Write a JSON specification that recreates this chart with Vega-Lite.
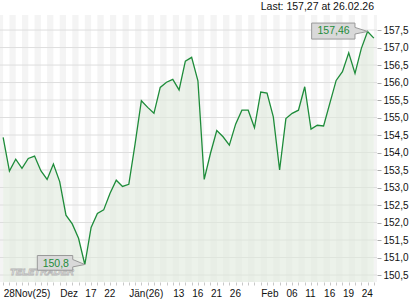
{
  "$schema": "https://vega.github.io/schema/vega-lite/v6.json",
  "width": 377,
  "height": 267,
  "autosize": "none",
  "padding": {"left": 0, "top": 15, "right": 43, "bottom": 18},
  "background": "#ffffff",
  "config": {"view": {"stroke": null}, "font": "Liberation Sans"},
  "title": {"text": "Last: 157,27 at 26.02.26", "anchor": "end", "frame": "group", "fontSize": 10.5, "fontWeight": "normal", "color": "#111111", "font": "Liberation Sans", "offset": 3, "dx": -3},
  "datasets": {
    "prices": [
      {"d": "2025-11-28", "i": 0, "v": 154.43},
      {"d": "2025-12-01", "i": 1, "v": 153.47},
      {"d": "2025-12-02", "i": 2, "v": 153.81},
      {"d": "2025-12-03", "i": 3, "v": 153.55},
      {"d": "2025-12-04", "i": 4, "v": 153.83},
      {"d": "2025-12-05", "i": 5, "v": 153.9},
      {"d": "2025-12-08", "i": 6, "v": 153.48},
      {"d": "2025-12-09", "i": 7, "v": 153.23},
      {"d": "2025-12-10", "i": 8, "v": 153.67},
      {"d": "2025-12-11", "i": 9, "v": 153.17},
      {"d": "2025-12-12", "i": 10, "v": 152.21},
      {"d": "2025-12-15", "i": 11, "v": 151.96},
      {"d": "2025-12-16", "i": 12, "v": 151.55},
      {"d": "2025-12-17", "i": 13, "v": 150.8},
      {"d": "2025-12-18", "i": 14, "v": 151.86},
      {"d": "2025-12-19", "i": 15, "v": 152.26},
      {"d": "2025-12-22", "i": 16, "v": 152.36},
      {"d": "2025-12-23", "i": 17, "v": 152.83},
      {"d": "2025-12-29", "i": 18, "v": 153.21},
      {"d": "2025-12-30", "i": 19, "v": 153.03},
      {"d": "2026-01-02", "i": 20, "v": 153.09},
      {"d": "2026-01-05", "i": 21, "v": 154.25},
      {"d": "2026-01-06", "i": 22, "v": 155.48},
      {"d": "2026-01-07", "i": 23, "v": 155.29},
      {"d": "2026-01-08", "i": 24, "v": 155.12},
      {"d": "2026-01-09", "i": 25, "v": 155.86},
      {"d": "2026-01-12", "i": 26, "v": 156.01},
      {"d": "2026-01-13", "i": 27, "v": 156.09},
      {"d": "2026-01-14", "i": 28, "v": 155.79},
      {"d": "2026-01-15", "i": 29, "v": 156.61},
      {"d": "2026-01-16", "i": 30, "v": 156.72},
      {"d": "2026-01-19", "i": 31, "v": 156.05},
      {"d": "2026-01-20", "i": 32, "v": 153.23},
      {"d": "2026-01-21", "i": 33, "v": 153.98},
      {"d": "2026-01-22", "i": 34, "v": 154.63},
      {"d": "2026-01-23", "i": 35, "v": 154.45},
      {"d": "2026-01-26", "i": 36, "v": 154.21},
      {"d": "2026-01-27", "i": 37, "v": 154.81},
      {"d": "2026-01-28", "i": 38, "v": 155.21},
      {"d": "2026-01-29", "i": 39, "v": 155.21},
      {"d": "2026-01-30", "i": 40, "v": 154.71},
      {"d": "2026-02-02", "i": 41, "v": 155.73},
      {"d": "2026-02-03", "i": 42, "v": 155.7},
      {"d": "2026-02-04", "i": 43, "v": 155.02},
      {"d": "2026-02-05", "i": 44, "v": 153.5},
      {"d": "2026-02-06", "i": 45, "v": 154.97},
      {"d": "2026-02-09", "i": 46, "v": 155.12},
      {"d": "2026-02-10", "i": 47, "v": 155.21},
      {"d": "2026-02-11", "i": 48, "v": 155.88},
      {"d": "2026-02-12", "i": 49, "v": 154.67},
      {"d": "2026-02-13", "i": 50, "v": 154.78},
      {"d": "2026-02-16", "i": 51, "v": 154.76},
      {"d": "2026-02-17", "i": 52, "v": 155.41},
      {"d": "2026-02-18", "i": 53, "v": 156.06},
      {"d": "2026-02-19", "i": 54, "v": 156.31},
      {"d": "2026-02-20", "i": 55, "v": 156.85},
      {"d": "2026-02-23", "i": 56, "v": 156.26},
      {"d": "2026-02-24", "i": 57, "v": 156.97},
      {"d": "2026-02-25", "i": 58, "v": 157.46},
      {"d": "2026-02-26", "i": 59, "v": 157.27}
    ],
    "levels": [
      {"v": 150.5}, {"v": 151}, {"v": 151.5}, {"v": 152}, {"v": 152.5}, {"v": 153}, {"v": 153.5}, {"v": 154},
      {"v": 154.5}, {"v": 155}, {"v": 155.5}, {"v": 156}, {"v": 156.5}, {"v": 157}, {"v": 157.5}
    ],
    "callouts": [
      {"kind": "max", "i": 58, "v": 157.46, "label": "157,46"},
      {"kind": "min", "i": 13, "v": 150.8, "label": "150,8"}
    ]
  },
  "layer": [
    {
      "data": {"name": "prices"},
      "transform": [
        {"filter": "datum.i % 2 == 0 || datum.i == 59"},
        {"calculate": "datum.i % 2 == 0 ? datum.i - 1 : datum.i", "as": "a"},
        {"calculate": "datum.a + 1", "as": "b"}
      ],
      "mark": {"type": "rect", "color": "#f4f4f4", "clip": true},
      "encoding": {
        "x": {"field": "a", "type": "quantitative", "scale": {"domain": [-0.5, 59.5], "nice": false, "zero": false},
          "axis": {"title": null, "orient": "bottom", "tickCount": 200, "values": [0,1,2,3,4,5,6,7,8,9,10,11,12,13,14,15,16,17,18,19,20,21,22,23,24,25,26,27,28,29,30,31,32,33,34,35,36,37,38,39,40,41,42,43,44,45,46,47,48,49,50,51,52,53,54,55,56,57,58,59],
            "domain": false, "grid": false, "ticks": true, "tickSize": 3, "tickColor": "#c8c8c8", "labelAlign": "left", "labelBaseline": "top", "labelPadding": 3, "labelFontSize": 10, "labelColor": "#111111", "labelOverlap": false, "labelFlush": false, "labelBound": false,
            "labelExpr": "datum.value == 0 ? '28Nov(25)' : datum.value == 9 ? 'Dez' : datum.value == 13 ? '17' : datum.value == 16 ? '22' : datum.value == 20 ? 'Jän(26)' : datum.value == 27 ? '13' : datum.value == 30 ? '16' : datum.value == 33 ? '21' : datum.value == 36 ? '26' : datum.value == 41 ? 'Feb' : datum.value == 45 ? '06' : datum.value == 48 ? '11' : datum.value == 51 ? '16' : datum.value == 54 ? '19' : datum.value == 57 ? '24' : ''"}},
        "x2": {"field": "b"}
      }
    },
    {
      "data": {"name": "levels"},
      "mark": {"type": "rule", "color": "#dedede", "strokeWidth": 1},
      "encoding": {
        "y": {"field": "v", "type": "quantitative", "scale": {"domain": [150.3, 157.93], "nice": false, "zero": false},
          "axis": {"title": null, "orient": "right", "tickCount": 100, "values": [150.5,151,151.5,152,152.5,153,153.5,154,154.5,155,155.5,156,156.5,157,157.5],
            "domain": false, "grid": false, "tickSize": 4, "tickColor": "#aaaaaa", "labelPadding": 2, "labelFontSize": 10, "labelColor": "#111111", "labelOverlap": false, "labelBound": false, "labelFlush": false,
            "labelExpr": "replace(format(datum.value, '.1f'), '.', ',')"}}
      }
    },
    {
      "data": {"name": "prices"},
      "mark": {"type": "area", "color": "#dfe9dc", "opacity": 0.6, "clip": true},
      "encoding": {
        "x": {"field": "i", "type": "quantitative", "title": null},
        "y": {"field": "v", "type": "quantitative", "title": null}
      }
    },
    {
      "data": {"name": "prices"},
      "mark": {"type": "line", "color": "#1e8c3a", "strokeWidth": 1.3, "clip": true},
      "encoding": {
        "x": {"field": "i", "type": "quantitative", "title": null},
        "y": {"field": "v", "type": "quantitative", "title": null}
      }
    },
    {
      "data": {"values": [{"w": "TELETRADER", "i": 1.1, "v": 150.58}]},
      "mark": {"type": "text", "align": "left", "baseline": "middle", "fontSize": 9.5, "fontWeight": "bold", "fontStyle": "italic", "fill": "#ffffff", "stroke": "#b5b5b5", "strokeWidth": 0.8},
      "encoding": {
        "x": {"field": "i", "type": "quantitative", "title": null},
        "y": {"field": "v", "type": "quantitative", "title": null},
        "text": {"field": "w"}
      }
    },
    {
      "data": {"name": "callouts"},
      "transform": [{"filter": "datum.kind == 'max'"}],
      "mark": {"type": "point", "shape": "M-0.932,-0.14 L-0.21,-0.14 L-0.21,-0.067 L0,0 L-0.21,0.043 L-0.21,0.127 L-0.932,0.127 Z", "size": 14400, "filled": true, "fill": "#d9d9d9", "stroke": "#9a9a9a", "strokeWidth": 1, "opacity": 1},
      "encoding": {
        "x": {"field": "i", "type": "quantitative", "title": null},
        "y": {"field": "v", "type": "quantitative", "title": null}
      }
    },
    {
      "data": {"name": "callouts"},
      "transform": [{"filter": "datum.kind == 'min'"}],
      "mark": {"type": "point", "shape": "M-0.95,-0.18 L-0.242,-0.18 L-0.242,-0.1 L0,0 L-0.242,0.048 L-0.242,0.114 L-0.95,0.114 Z", "size": 10000, "filled": true, "fill": "#d9d9d9", "stroke": "#9a9a9a", "strokeWidth": 1, "opacity": 1},
      "encoding": {
        "x": {"field": "i", "type": "quantitative", "title": null},
        "y": {"field": "v", "type": "quantitative", "title": null}
      }
    },
    {
      "data": {"name": "callouts"},
      "transform": [{"filter": "datum.kind == 'max'"}],
      "mark": {"type": "text", "align": "center", "baseline": "middle", "dx": -34, "dy": 0, "fontSize": 10.5, "color": "#1e8c3a"},
      "encoding": {
        "x": {"field": "i", "type": "quantitative", "title": null},
        "y": {"field": "v", "type": "quantitative", "title": null},
        "text": {"field": "label"}
      }
    },
    {
      "data": {"name": "callouts"},
      "transform": [{"filter": "datum.kind == 'min'"}],
      "mark": {"type": "text", "align": "center", "baseline": "middle", "dx": -29, "dy": -1, "fontSize": 10.5, "color": "#1e8c3a"},
      "encoding": {
        "x": {"field": "i", "type": "quantitative", "title": null},
        "y": {"field": "v", "type": "quantitative", "title": null},
        "text": {"field": "label"}
      }
    }
  ]
}
